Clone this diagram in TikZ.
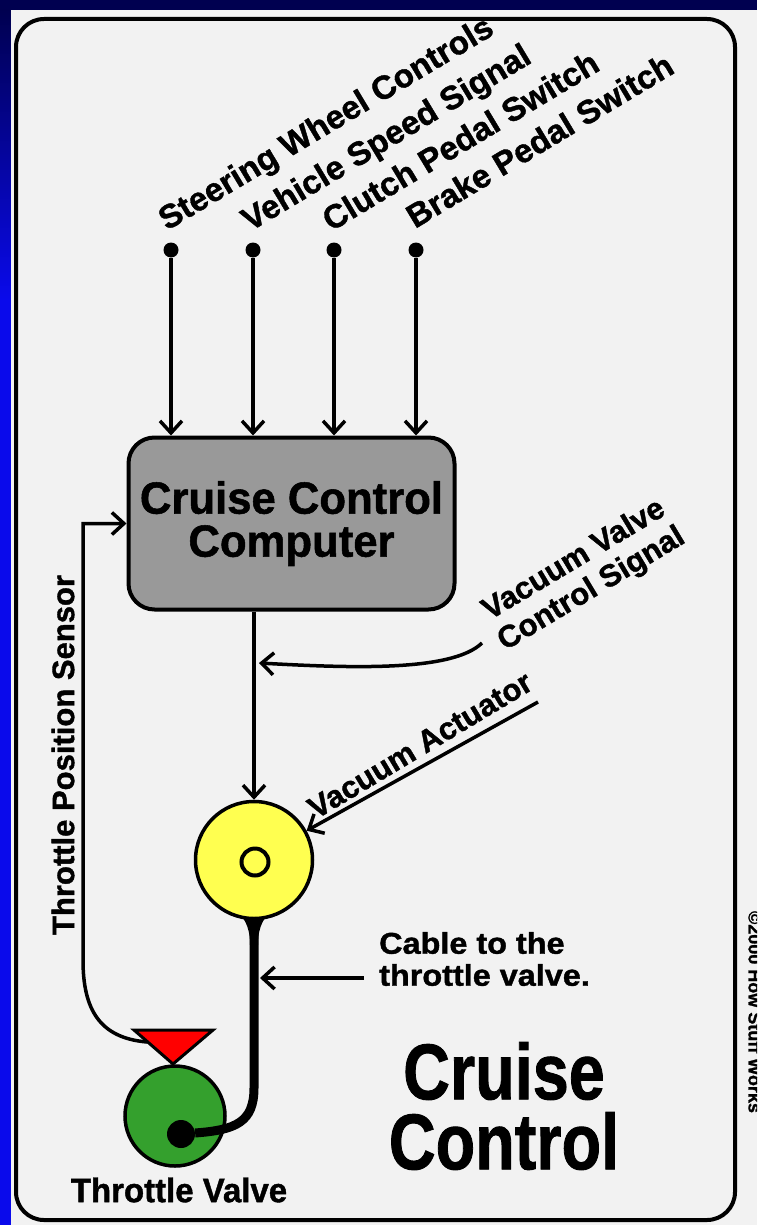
\documentclass[tikz,border=0pt]{standalone}
\usepackage{graphicx}
\usepackage{fontspec}
\setmainfont{Liberation Sans}[BoldFeatures={FakeBold=1.2}]
\usetikzlibrary{arrows.meta}
\definecolor{navy}{RGB}{0,0,80}
\definecolor{sideblue}{RGB}{10,10,235}
\definecolor{panel}{RGB}{242,242,242}
\definecolor{boxgray}{RGB}{153,153,153}
\definecolor{yel}{RGB}{255,255,80}
\definecolor{grn}{RGB}{52,160,45}
\definecolor{rd}{RGB}{255,0,0}
\newcommand\fs[2]{\fontsize{#1}{#2}\selectfont\bfseries}
\newcommand\sqz[2]{\scalebox{#1}[1]{#2}}
\begin{document}
\begin{tikzpicture}[x=1pt,y=-1pt,
  conn/.style={draw,line width=3.5pt,-{Straight Barb[length=12pt,width=22pt]}},
  dot/.style={circle,fill=black,inner sep=0pt,minimum size=15pt},
  toplbl/.style={anchor=base west,rotate=31,inner sep=0pt,font=\fs{33}{33}},
  lbl/.style={inner sep=0pt,font=\fs{31}{34}},
]
\useasboundingbox (0,0) rectangle (757,1225);
\clip (0,0) rectangle (757,1225);
% background
\fill[navy] (0,0) rectangle (757,1225);
\shade[top color=navy,bottom color=sideblue] (0,10) rectangle (11,300);
\fill[sideblue] (0,299) rectangle (11,1225);
\fill[panel] (11,10) rectangle (757,1225);
\draw[line width=4pt,rounded corners=28pt] (16,19) rectangle (735,1220);

% inputs
\node[dot] (s1) at (171,250) {};
\node[dot] (s2) at (253,250) {};
\node[dot] (s3) at (334,250) {};
\node[dot] (s4) at (416,250) {};
\node[toplbl] (l1) at (167,231) {Steering Wheel Controls};
\node[toplbl] (l2) at (250,232) {Vehicle Speed Signal};
\node[toplbl] (l3) at (331,232) {Clutch Pedal Switch};
\node[toplbl] (l4) at (415,229) {Brake Pedal Switch};

% computer
\node[draw,line width=4pt,fill=boxgray,rounded corners=26pt,minimum width=326pt,minimum height=172pt,
      align=center,font=\fs{45}{43}] (cpu) at (291.5,523.5) {\raisebox{-6pt}{\sqz{0.97}{Cruise Control}}\\\raisebox{-6pt}{\sqz{0.97}{Computer}}};
\foreach \s in {s1,s2,s3,s4} \draw[conn] (\s) -- (\s |- cpu.north);

% actuator
\fill (230,903) .. controls (244,917) and (250,925) .. (250,945) -- (258,945) .. controls (258,925) and (264,917) .. (278,903) -- cycle;
\node[circle,draw,line width=3.5pt,fill=yel,minimum size=117pt,inner sep=0pt] (act) at (254,860) {};
\node[circle,draw,line width=4pt,minimum size=27pt,inner sep=0pt] (ring) at (255,862) {};
\draw[conn] (cpu.south -| act.north) -- (act.north);

% vacuum valve control signal
\node[lbl,rotate=31,align=center] (vvcs) at (583,575) {Vacuum Valve\\Control Signal};
\coordinate (vv0) at (482,643);
\coordinate (vv1) at (259,663);
\draw[conn] (vv0) .. controls (452,672) and (350,668) .. (vv1);

% vacuum actuator
\node[lbl,rotate=31] (va) at (420,745) {Vacuum Actuator};
\coordinate (va0) at (538,702);
\draw[conn] (va0) -- (act);

% throttle valve
\node[circle,draw,line width=3.5pt,fill=grn,minimum size=100pt,inner sep=0pt] (tv) at (175,1116) {};
\draw[line width=3pt,fill=rd,line join=miter] (134,1030) -- (213,1030) -- (173,1064) -- cycle;
\coordinate (sens) at (147,1042);
\node[dot,minimum size=28pt] (pivot) at (181,1134) {};
\draw[line width=9pt] (act.south) -- (254,1088) .. controls (254,1122) and (236,1130) .. (pivot);
\node[lbl,font=\fs{34}{34}] (tvl) at (179,1190) {\sqz{0.97}{Throttle Valve}};

% throttle position sensor
\node[lbl,rotate=90] (tps) at (63,755) {Throttle Position Sensor};
\draw[conn] (sens) .. controls (100,1038) and (83,1010) .. (83,960) |- (cpu.west);

% cable
\node[lbl,anchor=west,align=left,font=\fs{30}{32}] (cable) at (379,959) {\sqz{1.08}{Cable to the}\\\sqz{1.08}{throttle valve.}};
\coordinate (c0) at (364,978);
\coordinate (c1) at (260,978);
\draw[conn] (c0) -- (c1);

% title
\node[inner sep=0pt,align=center,font=\fs{79}{70}] (title) at (504,1106) {\sqz{0.82}{Cruise}\\\sqz{0.82}{Control}};

% copyright
\node[rotate=-90,inner sep=0pt,font=\fs{18}{18}] (copy) at (755,1012) {©2000 How Stuff Works};
\end{tikzpicture}
\end{document}
